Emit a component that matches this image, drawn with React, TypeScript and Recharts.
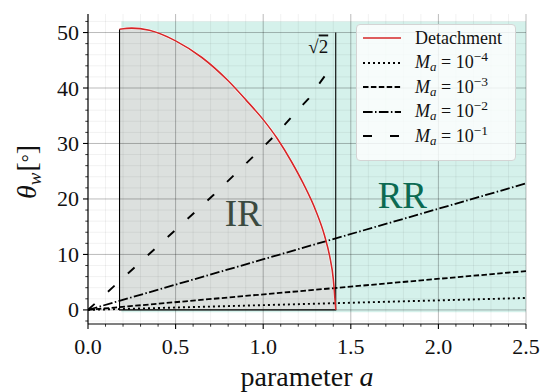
import React from "react";
import {
  ComposedChart,
  Line,
  Area,
  XAxis,
  YAxis,
  ReferenceLine,
  ReferenceDot,
  Legend,
  Label,
} from "recharts";

const FONT = '"Liberation Serif", "DejaVu Serif", serif';

// axis ticks (minor + major)
const xTicks = [
  0, 0.1, 0.2, 0.3, 0.4, 0.5, 0.6, 0.7, 0.8, 0.9, 1.0, 1.1, 1.2, 1.3, 1.4,
  1.5, 1.6, 1.7, 1.8, 1.9, 2.0, 2.1, 2.2, 2.3, 2.4, 2.5,
];
const yTicks = [
  -2, 0, 2, 4, 6, 8, 10, 12, 14, 16, 18, 20, 22, 24, 26, 28, 30, 32, 34, 36,
  38, 40, 42, 44, 46, 48, 50, 52,
];

// detachment criterion curve
const detachA = [
  0.18, 0.25, 0.35, 0.5, 0.65, 0.8, 0.9, 1.0, 1.08, 1.16, 1.23, 1.3, 1.35,
  1.38, 1.4, 1.414,
];
const detachTheta = [
  50.6, 50.8, 50.4, 48.5, 45.5, 41.3, 37.9, 34.3, 30.9, 26.8, 22.7, 17.9,
  13.4, 9.6, 5.6, 0,
];

// IR region outline: left edge, floor, sqrt(2) line
const boundA = [0.18, 0.18, 1.414, 1.414];
const boundTheta = [50.6, 0, 0, 50];

// RR shaded band
const rrA = [0.19, 2.5];
const rrTop = [52, 52];
const rrBottom = -0.4;

// M_a lines (a, theta)
const ma4A = [0, 2.5];
const ma4Theta = [0, 2.15];
const ma3A = [0, 2.5];
const ma3Theta = [0, 7.0];
const ma2A = [0, 2.5];
const ma2Theta = [0, 22.8];
const ma1A = [0, 0.354, 0.716, 1.059, 1.259, 1.375];
const ma1Theta = [0, 10.2, 20.7, 31.2, 38.1, 43.2];

const legendExps = [-4, -3, -2, -1];

const zip = (xs: number[], ys: number[]) => xs.map((x, i) => ({ x, y: ys[i] }));

const detachData = zip(detachA, detachTheta);
const boundData = zip(boundA, boundTheta);
const rrData = zip(rrA, rrTop);

const maStyles = [
  { dash: "2 3", width: 1.9 },
  { dash: "5.5 2.4", width: 1.8 },
  { dash: "9.6 2.4 1.5 2.4", width: 1.8 },
  { dash: "9 18", width: 1.9 },
];
const maData = [
  zip(ma4A, ma4Theta),
  zip(ma3A, ma3Theta),
  zip(ma2A, ma2Theta),
  zip(ma1A, ma1Theta),
];

const RED = "#d62728";

const isMajor = (v: number, step: number) =>
  Math.abs(v / step - Math.round(v / step)) < 1e-6;

const XTick = (props: any) => {
  const { x, y, payload } = props;
  const v = payload.value;
  const major = isMajor(v, 0.5);
  return (
    <g>
      <line x1={x} x2={x} y1={y} y2={y + (major ? 5 : 2.7)} stroke="#000" strokeWidth={major ? 1.1 : 0.8} />
      {major && (
        <text x={x} y={y + 30} textAnchor="middle" fontFamily={FONT} fontSize={22} fill="#111">
          {v.toFixed(1)}
        </text>
      )}
    </g>
  );
};

const YTick = (props: any) => {
  const { x, y, payload } = props;
  const v = payload.value;
  const major = isMajor(v, 10);
  return (
    <g>
      <line x1={x} x2={x - (major ? 5 : 2.7)} y1={y} y2={y} stroke="#000" strokeWidth={major ? 1.1 : 0.8} />
      {major && (
        <text x={x - 9} y={y + 7.5} textAnchor="end" fontFamily={FONT} fontSize={22} fill="#111">
          {v}
        </text>
      )}
    </g>
  );
};

const XLabel = (props: any) => {
  const vb = props.viewBox;
  return (
    <text x={vb.x + vb.width / 2} y={vb.y + 62} textAnchor="middle" fontFamily={FONT} fontSize={28} fill="#111">
      parameter <tspan fontStyle="italic">a</tspan>
    </text>
  );
};

const YLabel = (props: any) => {
  const vb = props.viewBox;
  const cx = vb.x + 36;
  const cy = vb.y + vb.height / 2 + 3;
  return (
    <text
      x={cx}
      y={cy}
      transform={`rotate(-90, ${cx}, ${cy})`}
      textAnchor="middle"
      fontFamily={FONT}
      fontSize={28}
      fill="#111"
    >
      <tspan fontStyle="italic">θ</tspan>
      <tspan fontStyle="italic" fontSize={19} dy={5}>w</tspan>
      <tspan dy={-5} dx={1}>[</tspan>
      <tspan fontSize={20}>°</tspan>
      <tspan>]</tspan>
    </text>
  );
};

const regionLabel = (text: string, color: string) => (props: any) => {
  const vb = props.viewBox;
  return (
    <text x={vb.x + vb.width / 2} y={vb.y + vb.height / 2} textAnchor="middle" fontFamily={FONT} fontSize={37} fill={color}>
      {text}
    </text>
  );
};

const SqrtLabel = (props: any) => {
  const vb = props.viewBox;
  return (
    <text x={vb.x + vb.width / 2} y={vb.y + vb.height / 2} textAnchor="end" fontFamily={FONT} fontSize={19} fill="#111">
      √<tspan textDecoration="overline">2</tspan>
    </text>
  );
};

const LegendBox = () => {
  const rows = [
    { label: <span>Detachment</span>, color: RED, dash: undefined as string | undefined, width: 1.6 },
    ...legendExps.map((e, i) => ({
      label: (
        <span>
          <i>M</i>
          <sub style={{ fontSize: "0.72em", verticalAlign: "-0.25em", lineHeight: 0 }}>
            <i>a</i>
          </sub>{" "}
          = 10
          <sup style={{ fontSize: "0.75em", verticalAlign: "0.5em", lineHeight: 0 }}>
            −{Math.abs(e)}
          </sup>
        </span>
      ),
      color: "#000",
      dash: maStyles[i].dash,
      width: maStyles[i].width,
    })),
  ];
  return (
    <div
      style={{
        width: 160,
        height: 137,
        boxSizing: "border-box",
        border: "1px solid #d4d4d4",
        borderRadius: 4,
        background: "rgba(255,255,255,0.8)",
        fontFamily: FONT,
        fontSize: 18,
        color: "#111",
        paddingTop: 1,
      }}
    >
      {rows.map((r, i) => (
        <div key={i} style={{ display: "flex", alignItems: "center", height: 24.5 }}>
          <svg width={58} height={20} style={{ flex: "none" }}>
            <line x1={6} x2={44} y1={10} y2={10} stroke={r.color} strokeWidth={r.width} strokeDasharray={r.dash} />
          </svg>
          {r.label}
        </div>
      ))}
    </div>
  );
};

export default function App() {
  return (
    <div style={{ position: "fixed", left: 0, top: 0, width: 542, height: 392, background: "#fff" }}>
      <ComposedChart width={542} height={392} margin={{ top: 14, right: 16, bottom: 0, left: 0 }}>
        <XAxis
          type="number"
          dataKey="x"
          domain={[0, 2.5]}
          ticks={xTicks}
          interval={0}
          allowDataOverflow
          tick={<XTick />}
          tickLine={false}
          tickSize={0}
          tickMargin={0}
          axisLine={{ stroke: "#000", strokeWidth: 1.1 }}
          height={68}
        >
          <Label content={XLabel} />
        </XAxis>
        <YAxis
          type="number"
          domain={[-2.54, 53.34]}
          ticks={yTicks}
          interval={0}
          allowDataOverflow
          tick={<YTick />}
          tickLine={false}
          tickSize={0}
          tickMargin={0}
          axisLine={{ stroke: "#000", strokeWidth: 1.1 }}
          width={88}
        >
          <Label content={YLabel} />
        </YAxis>

        <Area
          data={rrData}
          dataKey="y"
          baseValue={rrBottom}
          type="linear"
          fill="#d5f1eb"
          fillOpacity={1}
          stroke="none"
          isAnimationActive={false}
          dot={false}
          activeDot={false}
          zIndex={100}
        />
        <Area
          data={detachData}
          dataKey="y"
          baseValue={0}
          type="monotone"
          fill="#dce0de"
          fillOpacity={1}
          stroke="#fff"
          strokeWidth={2.5}
          isAnimationActive={false}
          dot={false}
          activeDot={false}
          zIndex={101}
        />

        {xTicks.map((v) => (
          <ReferenceLine
            key={`gx${v}`}
            x={v}
            stroke="#000"
            strokeOpacity={isMajor(v, 0.5) ? 0.27 : 0.07}
            strokeWidth={isMajor(v, 0.5) ? 1 : 0.8}
            zIndex={150}
          />
        ))}
        {yTicks.map((v) => (
          <ReferenceLine
            key={`gy${v}`}
            y={v}
            stroke="#000"
            strokeOpacity={isMajor(v, 10) ? 0.27 : 0.07}
            strokeWidth={isMajor(v, 10) ? 1 : 0.8}
            zIndex={150}
          />
        ))}

        <Line
          data={boundData}
          dataKey="y"
          type="linear"
          stroke="#000"
          strokeWidth={1.1}
          dot={false}
          activeDot={false}
          isAnimationActive={false}
          zIndex={390}
        />
        {maData.map((d, i) => (
          <Line
            key={`ma${i}`}
            data={d}
            dataKey="y"
            type="linear"
            stroke="#000"
            strokeWidth={maStyles[i].width}
            strokeDasharray={maStyles[i].dash}
            dot={false}
            activeDot={false}
            isAnimationActive={false}
            zIndex={400}
          />
        ))}
        <Line
          data={detachData}
          dataKey="y"
          type="monotone"
          stroke={RED}
          strokeWidth={1.6}
          dot={false}
          activeDot={false}
          isAnimationActive={false}
          zIndex={410}
        />

        <ReferenceDot x={0.886} y={15.1} r={1} fill="none" stroke="none" label={regionLabel("IR", "#3b4a40")} />
        <ReferenceDot x={1.794} y={18.4} r={1} fill="none" stroke="none" label={regionLabel("RR", "#0b6a52")} />
        <ReferenceDot x={1.371} y={46.4} r={1} fill="none" stroke="none" label={SqrtLabel} />

        <Legend
          layout="horizontal"
          align="center"
          verticalAlign="middle"
          content={<LegendBox />}
          wrapperStyle={{ position: "absolute", left: 356, top: 24, width: 160, height: 137 }}
        />
      </ComposedChart>
    </div>
  );
}
